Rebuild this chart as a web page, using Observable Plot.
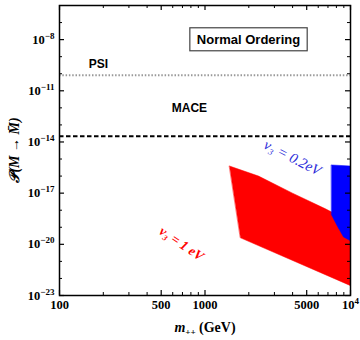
<!DOCTYPE html>
<html><head><meta charset="utf-8">
<script src="https://cdn.jsdelivr.net/npm/d3@7"></script>
<script src="https://cdn.jsdelivr.net/npm/@observablehq/plot@0.6"></script>
<style>
body{margin:0;background:#fff}
#chart{position:relative;width:360px;height:340px}
</style>
</head><body><div id="chart"></div>
<script>
// Allowed region for nu3 = 1 eV (red) and nu3 = 0.2 eV (blue): boundary vertices
const redMass = [1473, 2333, 3993, 6730, 10000, 10000, 1754];
const redProb = [3.9e-16, 1.0e-16, 1.0e-17, 1.2e-18, 2.1e-19, 3.8e-23, 2.4e-20];
const blueMass = [7396, 10000, 10000, 8954, 8147, 7396];
const blueProb = [4.5e-16, 3.9e-16, 1.6e-20, 2.7e-20, 1.1e-19, 5.4e-19];

// Experimental bounds
const boundNames = ["PSI", "MACE"];
const boundValues = [8.2e-11, 2.2e-14];
const boundLabelMass = [185, 782];
const boundLabelProb = [3.5e-10, 9.3e-13];

// Region labels
const regionLabels = ["ν₃ = 0.2eV", "ν₃ = 1 eV"];
const regionLabelMass = [3990, 689];
const regionLabelProb = [1.2e-15, 1.1e-20];
const regionColors = ["#2b2bd9", "#ff0000"];

const titleText = "Normal Ordering";
const titleMass = 1990, titleProb = 1e-8;

// Ticks
const xTickValues = [100, 500, 1000, 5000, 10000];
const xTickLabels = ["100", "500", "1000", "5000", "10^4"];
const xMinorTicks = [200, 300, 400, 600, 700, 800, 900, 2000, 3000, 4000, 6000, 7000, 8000, 9000];
const yTickValues = [1e-23, 1e-20, 1e-17, 1e-14, 1e-11, 1e-8];
const yTickLabels = ["10^−23", "10^−20", "10^−17", "10^−14", "10^−11", "10^−8"];
const yMinorTicks = [1e-22, 1e-21, 1e-19, 1e-18, 1e-16, 1e-15, 1e-13, 1e-12, 1e-10, 1e-9, 1e-7];

const red = redMass.map((m, i) => ({m, p: redProb[i]}));
const blue = blueMass.map((m, i) => ({m, p: blueProb[i]}));
const bounds = boundNames.map((n, i) => ({n, v: boundValues[i], m: boundLabelMass[i], p: boundLabelProb[i]}));
const regions = regionLabels.map((t, i) => ({t, m: regionLabelMass[i], p: regionLabelProb[i], c: regionColors[i]}));

const serif = "Liberation Serif, Times New Roman, serif";
const sans = "Liberation Sans, Arial, sans-serif";
const FW = 291, FH = 290; // frame size in px (for tick lengths)

const chart = Plot.plot({
  width: 360, height: 340,
  marginLeft: 59, marginRight: 10, marginTop: 5, marginBottom: 45,
  x: {type: "log", domain: [100, 1e4], axis: null},
  y: {type: "log", domain: [1e-23, 1e-6], axis: null},
  marks: [
    Plot.line(red, {x: "m", y: "p", fill: "#ff0000", stroke: "#ff0000", strokeWidth: 0.5, curve: "linear-closed", clip: true}),
    Plot.line(blue, {x: "m", y: "p", fill: "#0000ff", stroke: "#0000ff", strokeWidth: 0.5, curve: "linear-closed", clip: true}),
    Plot.ruleY([bounds[0]], {y: "v", stroke: "#999", strokeWidth: 2, strokeDasharray: "1.5,1.8"}),
    Plot.ruleY([bounds[1]], {y: "v", stroke: "#000", strokeWidth: 2, strokeDasharray: "4.5,2.5"}),
    Plot.text(bounds, {x: "m", y: "p", text: "n", fontFamily: sans, fontWeight: "bold", fontSize: 12, fill: "#000"}),
    Plot.text(regions, {x: "m", y: "p", text: "t", fill: "c", rotate: 27, fontFamily: serif, fontStyle: "italic", fontSize: 14.5, filter: (d, i) => i === 0}),
    Plot.text(regions, {x: "m", y: "p", text: "t", fill: "c", rotate: 34, fontFamily: serif, fontStyle: "italic", fontWeight: "bold", fontSize: 13.5, filter: (d, i) => i === 1}),
    Plot.text([titleText], {x: () => titleMass, y: () => titleProb, text: d => d, fontFamily: sans, fontWeight: "bold", fontSize: 13, fill: "#000"}),
    // inward ticks on all four sides
    Plot.tickX(xTickValues, {x: d => d, insetTop: FH - 5, stroke: "#000", strokeWidth: 1.2}),
    Plot.tickX(xMinorTicks, {x: d => d, insetTop: FH - 3, stroke: "#000"}),
    Plot.tickX(xTickValues, {x: d => d, insetBottom: FH - 5, stroke: "#000", strokeWidth: 1.2}),
    Plot.tickX(xMinorTicks, {x: d => d, insetBottom: FH - 3, stroke: "#000"}),
    Plot.tickY(yTickValues, {y: d => d, insetRight: FW - 5, stroke: "#000", strokeWidth: 1.2}),
    Plot.tickY(yMinorTicks, {y: d => d, insetRight: FW - 3, stroke: "#000"}),
    Plot.tickY(yTickValues, {y: d => d, insetLeft: FW - 5, stroke: "#000", strokeWidth: 1.2}),
    Plot.tickY(yMinorTicks, {y: d => d, insetLeft: FW - 3, stroke: "#000"}),
    // tick labels
    Plot.text(xTickValues, {x: d => d, frameAnchor: "bottom", dy: 5, lineAnchor: "top", text: (d, i) => xTickLabels[i], fontFamily: serif, fontWeight: "bold", fontSize: 12.5, fill: "#000"}),
    Plot.text(yTickValues, {y: d => d, frameAnchor: "left", dx: -5, textAnchor: "end", text: (d, i) => yTickLabels[i], fontFamily: serif, fontWeight: "bold", fontSize: 12.5, fill: "#000"}),
    Plot.frame({stroke: "#000", strokeWidth: 1.5})
  ]
});
document.getElementById("chart").appendChild(chart);

const svg = d3.select(chart);
// turn "10^e" labels into 10 with superscript exponent
svg.selectAll("text").each(function() {
  const s = this.textContent;
  const m = /^10\^(.+)$/.exec(s);
  if (!m) return;
  const el = d3.select(this);
  el.text("10");
  el.append("tspan").attr("font-size", 9).attr("dy", "-0.55em").text(m[1]);
});
// box around the title
const t = svg.selectAll("text").filter(function() { return this.textContent === titleText; }).node();
if (t) {
  const b = t.getBBox();
  const ctm = t.getCTM();
  const svgCtm = chart.getCTM ? chart.getCTM() : null;
  const p = chart.createSVGPoint(); p.x = b.x; p.y = b.y;
  const q = p.matrixTransform(svgCtm ? svgCtm.inverse().multiply(ctm) : ctm);
  svg.append("rect").attr("x", q.x - 7).attr("y", q.y - 4).attr("width", b.width + 14).attr("height", b.height + 8)
    .attr("fill", "none").attr("stroke", "#444").attr("stroke-width", 1.2);
}
// axis titles
const xl = svg.append("text").attr("x", 205).attr("y", 332).attr("text-anchor", "middle")
  .attr("font-family", serif).attr("font-size", 14).attr("font-weight", "bold").attr("fill", "#000");
xl.append("tspan").attr("font-style", "italic").text("m");
xl.append("tspan").attr("font-style", "italic").attr("font-size", 9).attr("dy", 3).text("++");
xl.append("tspan").attr("dy", -3).text(" (GeV)");
const yl = svg.append("text").attr("transform", "translate(19,150) rotate(-90)").attr("text-anchor", "middle")
  .attr("font-family", serif).attr("font-size", 14).attr("font-weight", "bold").attr("font-style", "italic").attr("fill", "#000");
yl.append("tspan").text("𝒫(M → M\u0304)");
</script>
</body></html>
